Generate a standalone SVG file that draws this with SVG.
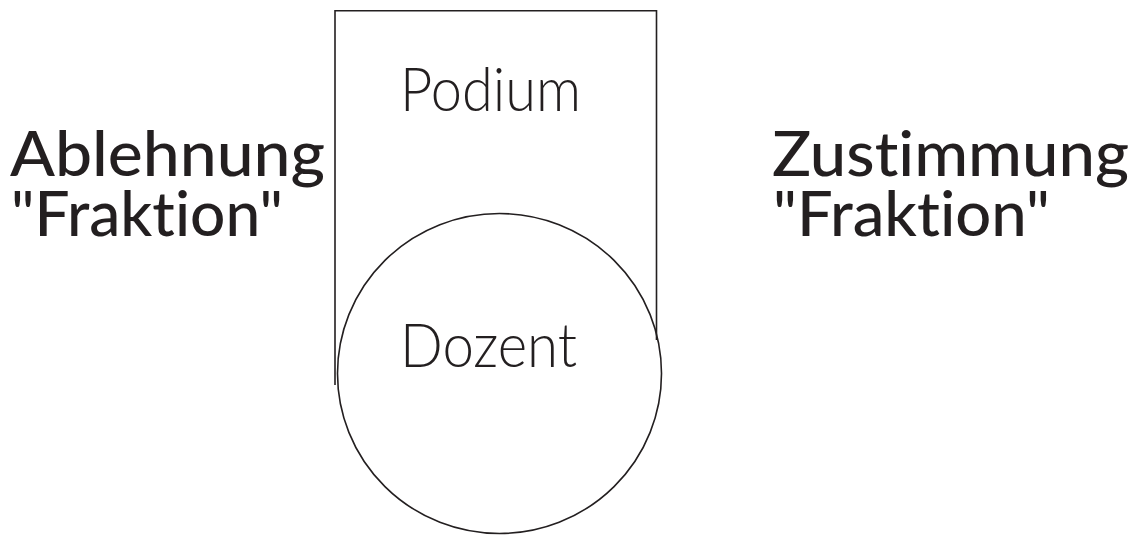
<svg xmlns="http://www.w3.org/2000/svg" width="1141" height="536" viewBox="0 0 1141 536">
<style>
.shape{fill:none;stroke:#231f20;stroke-width:1.6}
text{font-variant-ligatures:none;font-feature-settings:"liga" 0,"clig" 0}
.lbl{font-family:Lato,"Liberation Sans",sans-serif;font-size:62px;font-weight:500;fill:#231f20}
.nm{font-family:Lato,"Liberation Sans",sans-serif;font-size:62px;font-weight:300;fill:#231f20}
</style>
<rect width="1141" height="536" fill="#ffffff"/>
<g id="connectors"></g>
<g id="podium">
<polyline class="shape" points="335,385 335,10.8 656.5,10.8 656.5,340"/>
<text class="nm" x="400" y="111" textLength="181" lengthAdjust="spacingAndGlyphs">Podium</text>
</g>
<g id="dozent">
<ellipse class="shape" cx="499.5" cy="373.5" rx="162" ry="160"/>
<text class="nm" x="400" y="367" textLength="177" lengthAdjust="spacingAndGlyphs">Dozent</text>
</g>
<g id="ablehnung">
<text class="lbl"><tspan x="10" y="176" textLength="315" lengthAdjust="spacingAndGlyphs">Ablehnung</tspan><tspan x="11" y="236" textLength="272" lengthAdjust="spacingAndGlyphs">"Fraktion"</tspan></text>
</g>
<g id="zustimmung">
<text class="lbl"><tspan x="772" y="176" textLength="357" lengthAdjust="spacingAndGlyphs">Zustimmung</tspan><tspan x="773" y="236" textLength="277" lengthAdjust="spacingAndGlyphs">"Fraktion"</tspan></text>
</g>
</svg>
